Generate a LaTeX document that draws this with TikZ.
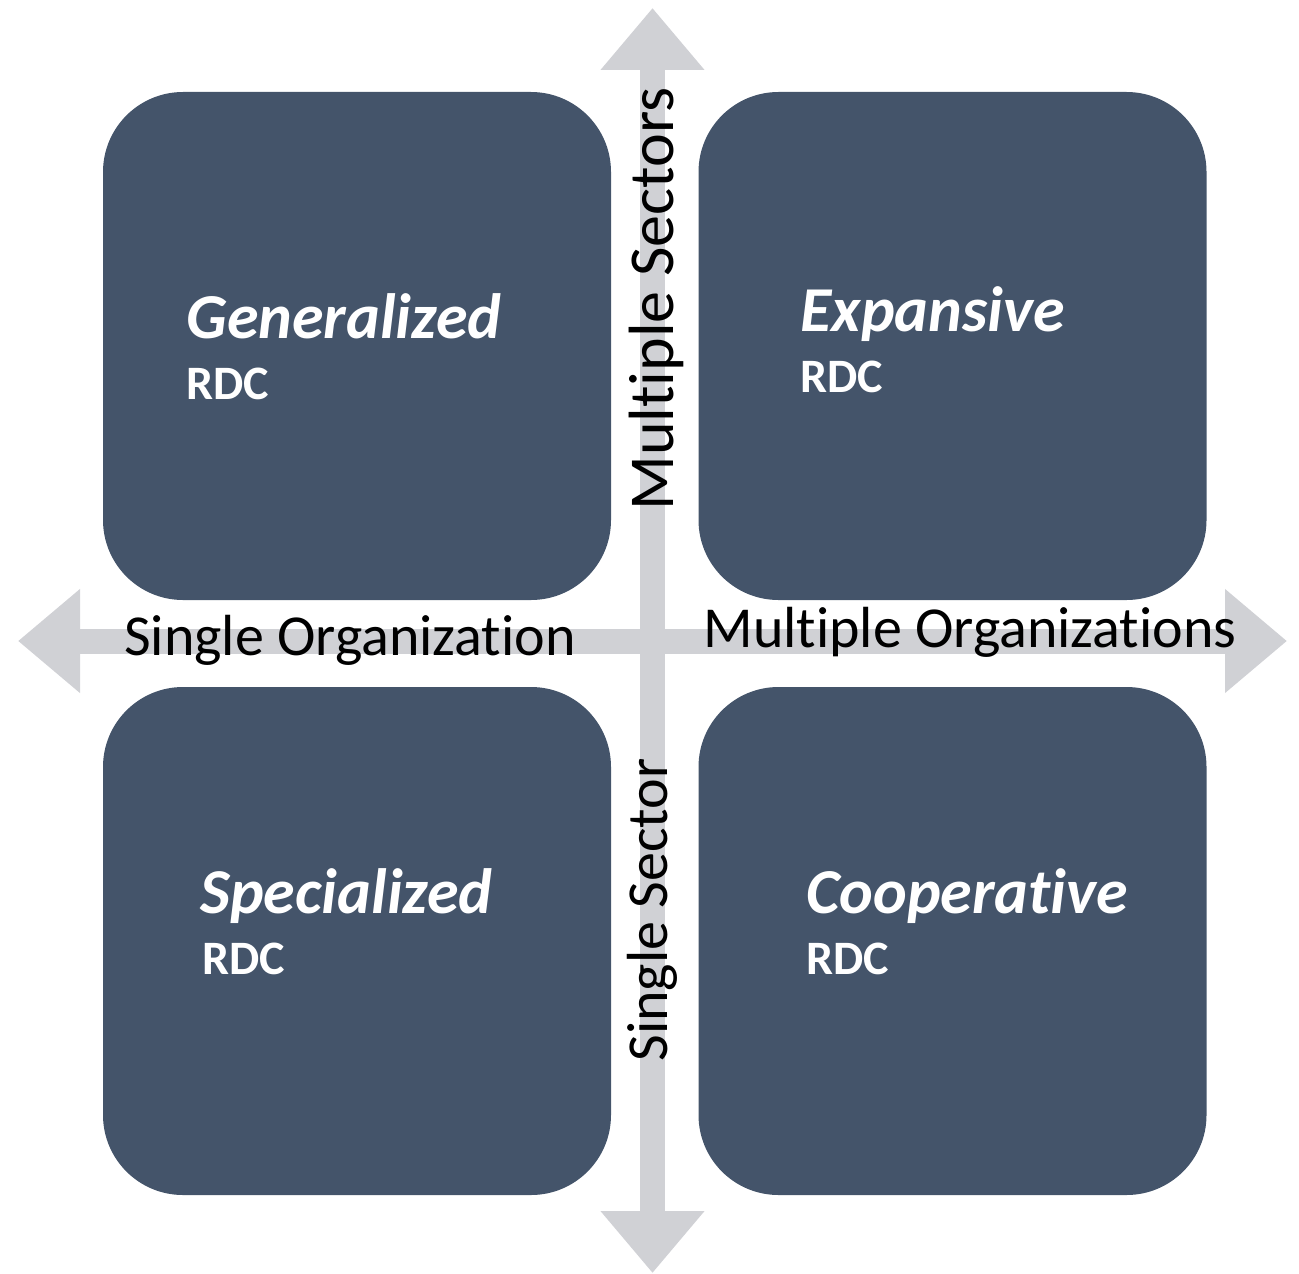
\documentclass[tikz,border=0pt]{standalone}
\usepackage{fontspec}
\setmainfont{Carlito}[RawFeature={-liga;-clig;-calt;-dlig;-rlig}]
\usetikzlibrary{arrows.meta}

\definecolor{quadfill}{HTML}{44546A}
\definecolor{axisgray}{HTML}{D0D1D5}

\begin{document}
\begin{tikzpicture}[x=0.5pt, y=-0.5pt,
      quadrant/.style = {fill=quadfill, rounded corners=40pt, inner sep=0pt,
                         minimum width=254pt, minimum height=254pt},
      axis/.style = {draw=axisgray, line width=12.5pt,
                     arrows={Triangle[length=31pt, width=50pt]-Triangle[length=31pt, width=50pt]}},
      title/.style = {text=white, anchor=base west, inner sep=0pt,
                      font=\fontsize{32}{36}\selectfont\bfseries\itshape},
      sub/.style = {text=white, anchor=base west, inner sep=0pt,
                    font=\fontsize{24}{28}\selectfont\bfseries},
      axis label/.style = {anchor=base, inner sep=0pt,
                           font=\fontsize{29}{34}\selectfont},
    ]
    \useasboundingbox (0,0) rectangle (1299,1273);

    %% The four quadrants
    \node (gen)  [quadrant] at (357, 346) {};
    \node (exp)  [quadrant] at (952.5, 346) {};
    \node (spec) [quadrant] at (357, 941) {};
    \node (coop) [quadrant] at (952.5, 941) {};

    %% The two axes
    \coordinate (north) at (652.5, 8);
    \coordinate (south) at (652.5, 1273);
    \coordinate (west)  at (18, 641);
    \coordinate (east)  at (1287, 641);
    \draw [axis] (south) -- (north);
    \draw [axis] (west) -- (east);

    %% Axis labels
    \node (single org) [axis label] at (350, 655) {Single Organization};
    \node (multi org)  [axis label] at (970, 647) {Multiple Organizations};
    \node (multi sec)  [axis label, rotate=90, font=\fontsize{32}{36}\selectfont]
      at (673, 299) {Multiple Sectors};
    \node (single sec) [axis label, rotate=90] at (667, 910) {Single Sector};

    %% Quadrant texts
    \node (gen title)  [title] at (186, 338) {Generalized};
    \node (gen sub)    [sub]   at (186, 399) {RDC};
    \node (exp title)  [title] at (800, 331) {Expansive};
    \node (exp sub)    [sub]   at (800, 392) {RDC};
    \node (spec title) [title] at (200, 913) {Specialized};
    \node (spec sub)   [sub]   at (202, 974) {RDC};
    \node (coop title) [title] at (806, 913) {Cooperative};
    \node (coop sub)   [sub]   at (806, 974) {RDC};
  \end{tikzpicture}
\end{document}
